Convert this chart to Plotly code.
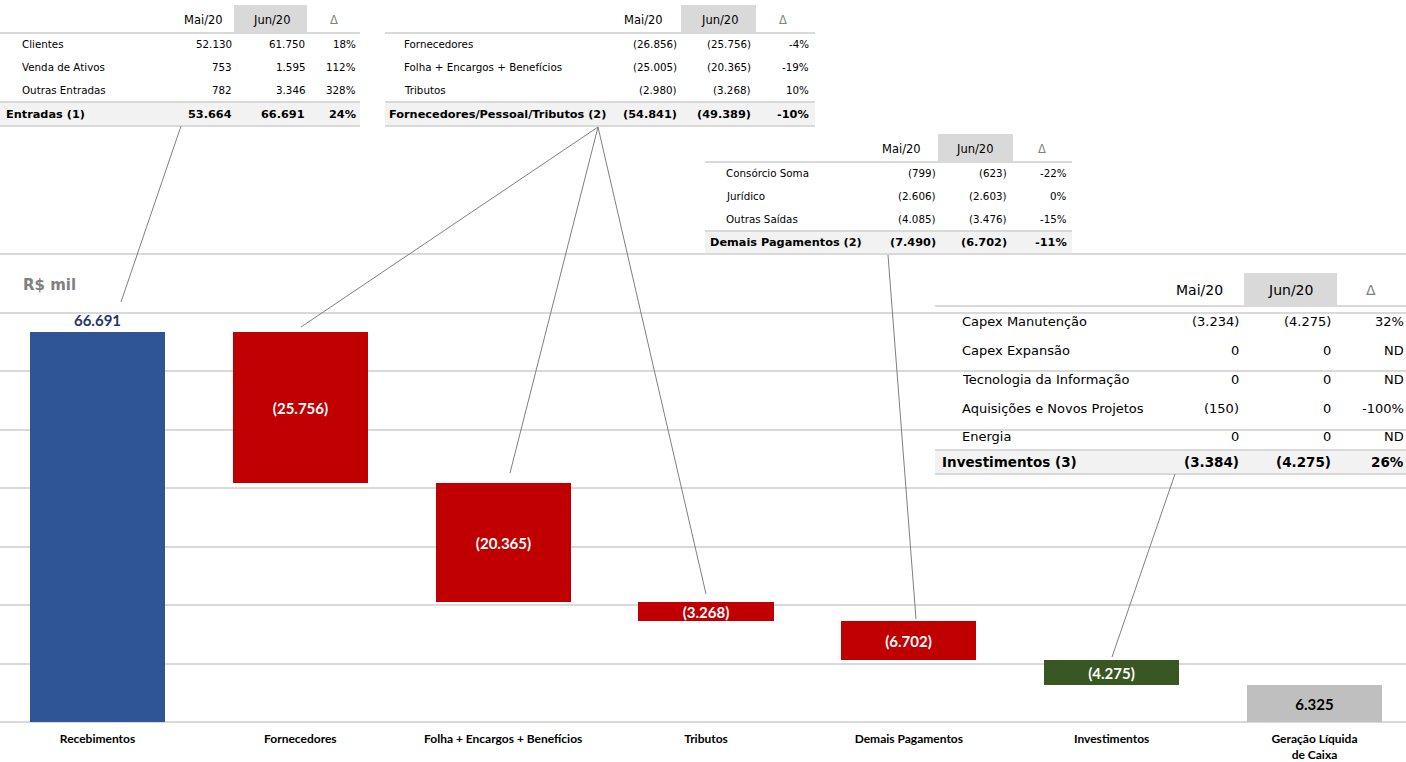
import plotly.graph_objects as go

# ---------------- data ----------------
categories = ["Recebimentos", "Fornecedores", "Folha + Encargos + Benefícios", "Tributos",
              "Demais Pagamentos", "Investimentos", "Geração Líquida<br>de Caixa"]
flows = [66691, -25756, -20365, -3268, -6702, -4275]
bar_colors = ["#2F5597", "#C00000", "#C00000", "#C00000", "#C00000", "#385723", "#BFBFBF"]
label_colors = ["#1F3864", "#FFFFFF", "#FFFFFF", "#FFFFFF", "#FFFFFF", "#FFFFFF", "#000000"]
unit_label = "R$ mil"

col_headers = ["Mai/20", "Jun/20", "Δ"]

t1_labels = ["Clientes", "Venda de Ativos", "Outras Entradas"]
t1_mai = [52130, 753, 782]
t1_jun = [61750, 1595, 3346]
t1_delta = ["18%", "112%", "328%"]
t1_total = ["Entradas (1)", 53664, 66691, "24%"]

t2_labels = ["Fornecedores", "Folha + Encargos + Benefícios", "Tributos"]
t2_mai = [-26856, -25005, -2980]
t2_jun = [-25756, -20365, -3268]
t2_delta = ["-4%", "-19%", "10%"]
t2_total = ["Fornecedores/Pessoal/Tributos (2)", -54841, -49389, "-10%"]

t3_labels = ["Consórcio Soma", "Jurídico", "Outras Saídas"]
t3_mai = [-799, -2606, -4085]
t3_jun = [-623, -2603, -3476]
t3_delta = ["-22%", "0%", "-15%"]
t3_total = ["Demais Pagamentos (2)", -7490, -6702, "-11%"]

t4_labels = ["Capex Manutenção", "Capex Expansão", "Tecnologia da Informação",
             "Aquisições e Novos Projetos", "Energia"]
t4_mai = [-3234, 0, 0, -150, 0]
t4_jun = [-4275, 0, 0, 0, 0]
t4_delta = ["32%", "ND", "ND", "-100%", "ND"]
t4_total = ["Investimentos (3)", -3384, -4275, "26%"]


def fmt_br(v):
    s = f"{abs(v):,}".replace(",", ".")
    return f"({s})" if v < 0 else s


# ------------- waterfall geometry from data -------------
bases, heights = [], []
running = 0
for f in flows:
    bases.append(running)
    heights.append(f)
    running += f
bases.append(0)
heights.append(running)
texts = ["<b>%s</b>" % fmt_br(h) for h in heights]
positions = ["outside"] + ["inside"] * (len(heights) - 1)

W, H = 1406, 762
MT, MB = 240, 40
PLOT_TOP, PLOT_BOT = MT, H - MB
PX_PER_UNIT = 390.0 / 66691.0
ymax = (PLOT_BOT - PLOT_TOP) / PX_PER_UNIT

cat_px = 202.83
x0 = -97.5 / cat_px
x1 = x0 + W / cat_px


def px(x):
    return x / W


def py(y):
    return (PLOT_BOT - y) / (PLOT_BOT - PLOT_TOP)


fig = go.Figure()
fig.add_trace(go.Bar(
    x=list(range(len(categories))), y=heights, base=bases,
    width=0.666,
    marker=dict(color=bar_colors, line=dict(width=0)),
    text=texts, textposition=positions, insidetextanchor="middle",
    textfont=dict(family="Lato", size=15, color=label_colors),
    cliponaxis=False, hoverinfo="skip",
))

shapes = []
annotations = []

GRID = "#D9D9D9"
TOTBG = "#F2F2F2"
HDRBG = "#D9D9D9"
FONT_T = "DejaVu Sans"


def add_table(g, labels, mai, jun, delta, total):
    if g["white"]:
        shapes.append(dict(type="rect", xref="paper", yref="paper", layer="above",
                           x0=px(g["x0"]), x1=px(g["x1"]), y0=py(g["tot_y1"] + 1), y1=py(g["hdr_y0"] - 2),
                           fillcolor="white", line=dict(width=0)))
    shapes.append(dict(type="rect", xref="paper", yref="paper", layer="above",
                       x0=px(g["gray"][0]), x1=px(g["gray"][1]), y0=py(g["hdr_y1"]), y1=py(g["hdr_y0"]),
                       fillcolor=HDRBG, line=dict(width=0)))
    shapes.append(dict(type="line", xref="paper", yref="paper", layer="above",
                       x0=px(g["x0"]), x1=px(g["x1"]), y0=py(g["hdr_line"]), y1=py(g["hdr_line"]),
                       line=dict(color=GRID, width=2)))
    shapes.append(dict(type="rect", xref="paper", yref="paper", layer="above",
                       x0=px(g["x0"]), x1=px(g["x1"]), y0=py(g["tot_y1"]), y1=py(g["tot_y0"]),
                       fillcolor=TOTBG, line=dict(width=0)))
    for yy in (g["tot_y0"], g["tot_y1"]):
        shapes.append(dict(type="line", xref="paper", yref="paper", layer="above",
                           x0=px(g["x0"]), x1=px(g["x1"]), y0=py(yy), y1=py(yy),
                           line=dict(color=GRID, width=2)))
    hy = (g["hdr_y0"] + g["hdr_y1"]) / 2 + 1
    for i, h in enumerate(col_headers):
        annotations.append(dict(text=h, x=px(g["hdr_c"][i]), y=py(hy), xref="paper", yref="paper",
                                xanchor="center", yanchor="middle", showarrow=False,
                                font=dict(family=FONT_T, size=g["fs_h"],
                                          color="#808080" if i == 2 else "#000000")))
    for r, lab in enumerate(labels):
        yy = py(g["rows"][r])
        annotations.append(dict(text=lab, x=px(g["lab_x"]), y=yy, xref="paper", yref="paper",
                                xanchor="left", yanchor="middle", showarrow=False,
                                font=dict(family=FONT_T, size=g["fs_r"], color="#000000")))
        for c, val in enumerate([fmt_br(mai[r]), fmt_br(jun[r]), delta[r]]):
            annotations.append(dict(text=val, x=px(g["rights"][c] + 1), y=yy, xref="paper", yref="paper",
                                    xanchor="right", yanchor="middle", showarrow=False,
                                    font=dict(family=FONT_T, size=g["fs_r"], color="#000000")))
    ty = py((g["tot_y0"] + g["tot_y1"]) / 2)
    annotations.append(dict(text="<b>%s</b>" % total[0], x=px(g["tot_x"]), y=ty, xref="paper", yref="paper",
                            xanchor="left", yanchor="middle", showarrow=False,
                            font=dict(family=FONT_T, size=g["fs_t"], color="#000000")))
    for c, val in enumerate([fmt_br(total[1]), fmt_br(total[2]), total[3]]):
        annotations.append(dict(text="<b>%s</b>" % val, x=px(g["rights"][c] + 1), y=ty, xref="paper", yref="paper",
                                xanchor="right", yanchor="middle", showarrow=False,
                                font=dict(family=FONT_T, size=g["fs_t"], color="#000000")))


g1 = dict(x0=0, x1=360, hdr_y0=5, hdr_y1=32, hdr_line=33, rows=[44, 67, 90], tot_y0=102, tot_y1=126,
          lab_x=20, tot_x=4, rights=[233, 306, 357], hdr_c=[203, 271, 334], gray=[234, 307],
          fs_h=11.5, fs_r=10.3, fs_t=11.3, white=True)
g2 = dict(x0=385, x1=815, hdr_y0=5, hdr_y1=32, hdr_line=33, rows=[44, 67, 90], tot_y0=102, tot_y1=126,
          lab_x=402, tot_x=387, rights=[678, 752, 810], hdr_c=[643, 719, 783], gray=[681, 756],
          fs_h=11.5, fs_r=10.3, fs_t=11.3, white=True)
g3 = dict(x0=705, x1=1072, hdr_y0=134, hdr_y1=161, hdr_line=162, rows=[173, 196, 219], tot_y0=231, tot_y1=254,
          lab_x=724, tot_x=708, rights=[937, 1008, 1068], hdr_c=[902, 974, 1042], gray=[938, 1013],
          fs_h=11.5, fs_r=10.3, fs_t=11.3, white=True)
g4 = dict(x0=935, x1=1406, hdr_y0=273, hdr_y1=305, hdr_line=306, rows=[321, 350, 379, 408, 436],
          tot_y0=450, tot_y1=474, lab_x=960, tot_x=940, rights=[1240, 1332, 1405], hdr_c=[1199, 1290, 1371],
          gray=[1244, 1337], fs_h=14, fs_r=13, fs_t=13.5, white=False)

add_table(g1, t1_labels, t1_mai, t1_jun, t1_delta, t1_total)
add_table(g2, t2_labels, t2_mai, t2_jun, t2_delta, t2_total)
add_table(g3, t3_labels, t3_mai, t3_jun, t3_delta, t3_total)
add_table(g4, t4_labels, t4_mai, t4_jun, t4_delta, t4_total)

# connector lines (pixel endpoints)
connectors = [((181, 126), (121, 302)),
              ((598, 127), (301, 327)),
              ((598, 127), (510, 473)),
              ((598, 127), (706, 594)),
              ((888, 255), (916, 619)),
              ((1175, 474), (1112, 657))]
for (ax, ay), (bx, by) in connectors:
    shapes.append(dict(type="line", xref="paper", yref="paper", layer="above",
                       x0=px(ax), y0=py(ay), x1=px(bx), y1=py(by),
                       line=dict(color="#7F7F7F", width=1)))

annotations.append(dict(text="<b>%s</b>" % unit_label, x=px(21), y=py(285), xref="paper", yref="paper",
                        xanchor="left", yanchor="middle", showarrow=False,
                        font=dict(family="DejaVu Sans", size=15, color="#808080")))

fig.update_layout(
    width=W, height=H,
    margin=dict(l=0, r=0, t=MT, b=MB, pad=0, autoexpand=False),
    plot_bgcolor="white", paper_bgcolor="white",
    showlegend=False,
    bargap=0,
    uniformtext=dict(minsize=15, mode="show"),
    xaxis=dict(range=[x0, x1], tickmode="array", tickvals=list(range(len(categories))),
               ticktext=["<b>%s</b>" % c for c in categories], showgrid=False, zeroline=False, showline=False,
               ticks="", ticklabelstandoff=8, automargin=False,
               tickfont=dict(family="Lato", size=12, color="#000000")),
    yaxis=dict(range=[0, ymax], dtick=10000, showticklabels=False, showgrid=True, automargin=False,
               gridcolor=GRID, gridwidth=1.5, zeroline=True, zerolinecolor=GRID, zerolinewidth=1.5,
               showline=False, ticks=""),
    shapes=shapes, annotations=annotations,
)

fig.write_html("out.html")
